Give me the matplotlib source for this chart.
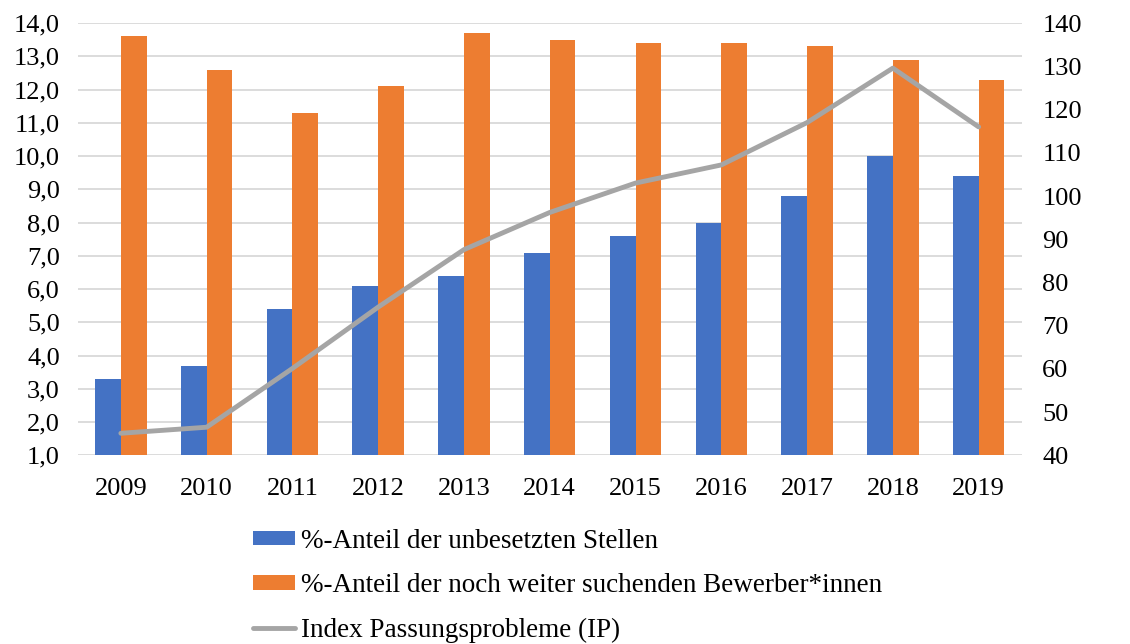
import numpy as np
import matplotlib
matplotlib.use('Agg')
import matplotlib.pyplot as plt
from matplotlib.ticker import FuncFormatter

# data
jahre = ['2009', '2010', '2011', '2012', '2013', '2014', '2015', '2016', '2017', '2018', '2019']
unbesetzt = [3.3, 3.7, 5.4, 6.1, 6.4, 7.1, 7.6, 8.0, 8.8, 10.0, 9.4]
suchend = [13.6, 12.6, 11.3, 12.1, 13.7, 13.5, 13.4, 13.4, 13.3, 12.9, 12.3]
index_ip = [45.1, 46.5, 60.1, 74.3, 87.6, 96.2, 103.0, 107.2, 117.0, 129.6, 116.0]

plt.rcParams['font.family'] = ['Liberation Serif', 'DejaVu Serif']
fs = 19

fig = plt.figure(figsize=(11.3, 6.44), dpi=100)
ax = fig.add_axes([0.069, 0.293, 0.835, 0.671])
x = np.arange(len(jahre))
w = 0.3

ax.bar(x - w / 2, unbesetzt, width=w, color='#4472C4', label='%-Anteil der unbesetzten Stellen', zorder=2)
ax.bar(x + w / 2, suchend, width=w, color='#ED7D31', label='%-Anteil der noch weiter suchenden Bewerber*innen', zorder=2)
ax.set_ylim(1, 14)
ax.set_yticks(np.arange(1, 14.1, 1))
ax.yaxis.set_major_formatter(FuncFormatter(lambda v, p: f'{v:.1f}'.replace('.', ',')))
ax.set_xlim(-0.5, len(jahre) - 0.5)
ax.set_xticks(x)
ax.set_xticklabels(jahre)
ax.grid(axis='y', color='#D9D9D9', linewidth=1.3, zorder=0)
ax.set_axisbelow(True)

ax2 = ax.twinx()
ax2.plot(x, index_ip, color='#A5A5A5', linewidth=3.5, solid_capstyle='round',
         label='Index Passungsprobleme (IP)', zorder=3)
ax2.set_ylim(40, 140)
ax2.set_yticks(np.arange(40, 141, 10))

for a in (ax, ax2):
    for s in a.spines.values():
        s.set_visible(False)
    a.tick_params(length=0, labelsize=fs, colors='black')
ax.tick_params(axis='y', pad=13)
ax.tick_params(axis='x', pad=16)
ax2.tick_params(axis='y', pad=15)

h1, l1 = ax.get_legend_handles_labels()
h2, l2 = ax2.get_legend_handles_labels()
fig.legend(h1 + h2, l1 + l2, loc='upper left', bbox_to_anchor=(0.224, 0.179),
           frameon=False, fontsize=19.5, handlelength=1.55, handleheight=0.45,
           handletextpad=0.2, labelspacing=0.72, borderaxespad=0, borderpad=0)

fig.savefig('out.png', dpi=100)
